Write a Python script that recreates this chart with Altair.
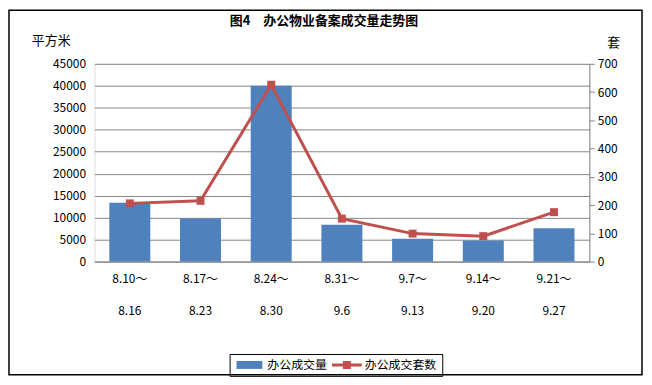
import altair as alt
import pandas as pd

weeks = ["8.10～|8.16", "8.17～|8.23", "8.24～|8.30", "8.31～|9.6", "9.7～|9.13", "9.14～|9.20", "9.21～|9.27"]
area = [13400, 9800, 40000, 8400, 5200, 4800, 7600]
units = [206, 215, 626, 152, 99, 90, 175]
series_names = ["办公成交量", "办公成交套数"]
title_text = "图4　办公物业备案成交量走势图"

df = pd.DataFrame({"week": weeks, "area": area, "units": units})
# legend-only points, placed outside the plot's value range and clipped away
leg_df = pd.DataFrame({"series": series_names, "week": [weeks[0]] * 2, "units": [-200, -200]})

FONT = "Noto Sans CJK SC"
BLUE = "#4F81BD"
RED = "#C0504D"

xenc = alt.X("week:N", sort=weeks,
             scale=alt.Scale(domain=weeks, paddingInner=0.42, paddingOuter=0.21),
             axis=alt.Axis(title=None, labelExpr="split(datum.value, '|')", labelAngle=0,
                           labelLineHeight=32, labelPadding=12, ticks=False,
                           domainColor="#868686", labelFont=FONT, labelFontSize=12,
                           labelColor="#000000", labelBaseline="top"))

bars = alt.Chart(df).mark_bar(color=BLUE).encode(
    x=xenc,
    y=alt.Y("area:Q", scale=alt.Scale(domain=[0, 45000]),
            axis=alt.Axis(values=list(range(0, 45001, 5000)), format="d", title="平方米",
                          titleAngle=0, titleX=-44, titleY=-23, titleAlign="center",
                          titleBaseline="middle", titleFont=FONT, titleFontSize=13,
                          titleFontWeight="normal", domain=False, ticks=False, grid=True,
                          gridColor="#868686", labelFont=FONT, labelFontSize=12,
                          labelColor="#000000", labelPadding=9, labelOverlap=False)),
)

xline = alt.X("week:N", sort=weeks, bandPosition=0.5)
yline = alt.Y("units:Q", scale=alt.Scale(domain=[0, 700]),
              axis=alt.Axis(orient="right", values=list(range(0, 701, 100)), format="d",
                            title="套", titleAngle=0, titleX=24, titleY=-21, titleAlign="center",
                            titleBaseline="middle", titleFont=FONT, titleFontSize=13,
                            titleFontWeight="normal", grid=False, domainColor="#868686",
                            tickColor="#868686", tickSize=5, labelPadding=3,
                            labelOverlap=False, labelFont=FONT, labelFontSize=12,
                            labelColor="#000000"))

line = alt.Chart(df).mark_line(color=RED, strokeWidth=3).encode(x=xline, y=yline)
pts = alt.Chart(df).mark_square(color=RED, size=64, opacity=1, filled=True).encode(x=xline, y=yline)

legend_pts = alt.Chart(leg_df).mark_point(filled=True, clip=True, opacity=1).encode(
    x=alt.X("week:N", sort=weeks, bandPosition=0.5),
    y=yline,
    color=alt.Color("series:N", scale=alt.Scale(domain=series_names, range=[BLUE, RED]),
                    legend=alt.Legend(title=None, orient="none", legendX=136, legendY=292,
                                      direction="horizontal", strokeColor="#000000",
                                      padding=5, labelFont=FONT, labelFontSize=12,
                                      labelColor="#000000", symbolOpacity=1,
                                      symbolStrokeWidth=0, symbolSize=100,
                                      symbolOffset=9, columnPadding=4, labelOffset=12)),
    shape=alt.Shape("series:N", scale=alt.Scale(
        domain=series_names,
        range=["M-2.6,-0.8H2.6V0.8H-2.6Z",
               "M-3,-0.3H3V0.3H-3Z M-0.8,-0.8H0.8V0.8H-0.8Z"])),
)

right_group = alt.layer(line, pts, legend_pts)

deco = alt.Data(values=[{"a": 1}])
border = alt.Chart(deco).mark_rect(fill=None, stroke="#000000", strokeWidth=1.5).encode(
    x=alt.value(-86), x2=alt.value(551), y=alt.value(-54), y2=alt.value(313))
title = alt.Chart(deco).mark_text(text=title_text, font=FONT, fontSize=13, fontWeight="bold",
                                  align="center", baseline="middle", color="#000000").encode(
    x=alt.value(231), y=alt.value(-43))

chart = alt.layer(bars, right_group, border, title).resolve_scale(
    y="independent", color="independent", shape="independent"
).properties(
    width=498, height=199,
    autosize=alt.AutoSizeParams(type="none"),
    padding={"left": 87, "top": 55, "right": 55, "bottom": 118},
).configure_view(stroke=None).configure(background="#ffffff")

chart.save("out.html", embed_options={"renderer": "svg", "actions": False})
